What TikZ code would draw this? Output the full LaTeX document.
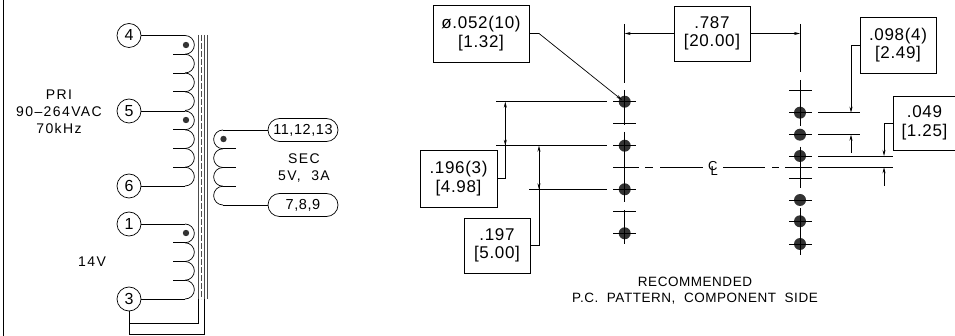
\documentclass[tikz,border=0pt]{standalone}
\usepackage{fontspec}
\setmainfont[LetterSpace=4]{Liberation Sans}
\usetikzlibrary{calc,arrows.meta,shapes.misc}
\newcommand{\widetext}{\addfontfeature{LetterSpace=10}}
\tikzset{
	pin/.style={draw,circle,minimum size=24pt,inner sep=0pt,font=\fontsize{16}{16}\selectfont},
	pill/.style={draw,rounded rectangle,minimum width=70pt,minimum height=23pt,inner sep=0pt,font=\fontsize{14.5}{14.5}\selectfont},
	dimbox/.style={draw,align=center,inner sep=0pt,font=\fontsize{17}{18.5}\selectfont},
	lbl/.style={align=center,inner sep=0pt,font=\fontsize{14}{17}\selectfont\widetext},
	dim/.style={-{Stealth[length=6pt,width=3pt]}},
	hole/.style={fill=black!80,circle,minimum size=12pt,inner sep=0pt},
	core/.style={line width=0.7pt,black!70}
}
\begin{document}
\begin{tikzpicture}[x=1pt,y=-1pt,line width=0.7pt]
	\useasboundingbox (0,0) rectangle (955,336);
	\draw (3,0) -- (3,336);

	% transformer pins
	\node[pin] (p4) at (129,35.5) {4};
	\node[pin] (p5) at (129,111) {5};
	\node[pin] (p6) at (129,186) {6};
	\node[pin] (p1) at (129,224) {1};
	\node[pin] (p3) at (129,299) {3};
	\node[pill] (s1) at (303,130) {11,12,13};
	\node[pill] (s2) at (303,205) {7,8,9};

	\coordinate (c1) at (185,35.5);
	\coordinate (c2) at (185,111);
	\coordinate (c3) at (185,186);
	\coordinate (c4) at (185,224);
	\coordinate (c5) at (185,299);
	\coordinate (c6) at (223,130);
	\coordinate (c7) at (223,205);

	\draw (p4) -- (c1);
	\draw (p5) -- (c2);
	\draw (p6) -- (c3);
	\draw (p1) -- (c4);
	\draw (p3) -- (c5);
	\draw (s1) -- (c6);
	\draw (s2) -- (c7);

	% windings
	\foreach \x in {c1,c2,c4}{
		\foreach \i in {0,...,3}{
			\draw ($(\x)+(0,\i*18.75)$) arc[start angle=-90,end angle=90,radius=9.375];
			\ifnum\i>0 \draw ($(\x)+(0,\i*18.75)$) -- ++(-12,0); \fi
		}
	}
	\foreach \i in {0,...,3}{
		\draw ($(c6)+(0,\i*18.75)$) arc[start angle=-90,end angle=-270,radius=9.375];
		\ifnum\i>0 \draw ($(c6)+(0,\i*18.75)$) -- ++(13,0); \fi
	}
	\foreach \x/\y in {186/45,186/120,186/233,223.5/139}
		\fill[black!80] (\x,\y) circle (3.2pt);

	% core
	\draw[core] (198,35) -- (198,299);
	\draw[core,dash pattern=on 6pt off 2pt] (201,35) -- (201,299);
	\draw[core] (204,35) -- (204,299);
	\draw[core] (207.5,35) -- (207.5,299);
	\draw (p3) -- (129,334) -- (204,334) -- (204,299);
	\draw (129,323) -- (198,323) -- (198,299);

	\node[lbl] (pri) at (59,112) {PRI\\90--264VAC\\70kHz};
	\node[lbl] (vs) at (92,262) {14V};
	\node[lbl] (sec) at (304,168.5) {SEC\\5V,\ \ 3A};

	% left column
	\foreach \y in {101.7,145.7,189.3,233.3}{
		\node[hole] at (624.7,\y) {};
		\draw (613,\y) -- (636,\y);
	}
	\draw (624.7,24) -- (624.7,83);
	\draw (624.7,90) -- (624.7,125);
	\draw (624.7,132) -- (624.7,202);
	\draw (624.7,210) -- (624.7,244);
	\draw (613,123.3) -- (636,123.3);
	\draw (613,211) -- (636,211);

	% right column
	\foreach \y in {112.7,134.7,156,200,221.3,244}{
		\node[hole] at (800,\y) {};
		\draw (789,\y) -- (811.7,\y);
	}
	\draw (800,24) -- (800,72);
	\draw (800,80) -- (800,125.7);
	\draw (800,146.7) -- (800,188.3);
	\draw (800,208.5) -- (800,255);
	\draw (789,90.7) -- (811.7,90.7);
	\draw (789,178.3) -- (811.7,178.3);

	% centre line
	\draw (613,167.3) -- (639,167.3);
	\draw (645,167.3) -- (653,167.3);
	\draw (660,167.3) -- (703,167.3);
	\draw (723,167.3) -- (765,167.3);
	\draw (772,167.3) -- (779,167.3);
	\draw (785,167.3) -- (812,167.3);
	\node[font=\fontsize{13}{13}\selectfont,inner sep=0pt] (cl) at (713,168) {\rlap{\raisebox{2.5pt}{C}}\hspace{2.5pt}\raisebox{-2.5pt}{L}};

	% dimension boxes
	\node[dimbox,minimum width=96pt,minimum height=57pt] (bhole) at (481,33.5) {ø.052(10)\\{[1.32]}};
	\node[dimbox,minimum width=76pt,minimum height=55pt] (bpitch) at (712,33.5) {.787\\{[20.00]}};
	\node[dimbox,minimum width=76pt,minimum height=56pt] (bsec) at (898,45) {.098(4)\\{[2.49]}};
	\node[dimbox,minimum width=63pt,minimum height=54pt] (bedge) at (924.5,123) {.049\\{[1.25]}};
	\node[dimbox,minimum width=77pt,minimum height=57pt] (bpri) at (458.5,178.5) {.196(3)\\{[4.98]}};
	\node[dimbox,minimum width=66pt,minimum height=55pt] (bpri2) at (497,245.5) {.197\\{[5.00]}};

	\coordinate (h1) at (622,100);
	\draw[dim] (bhole.east) -- (539,33.5) -- (h1);
	\draw[dim] (bpitch.west) -- (624.7,33.5);
	\draw[dim] (bpitch.east) -- (800,33.5);

	% left dimensions
	\draw (496,101.7) -- (607,101.7);
	\draw (496,145.7) -- (607,145.7);
	\draw (529,189.3) -- (607,189.3);
	\draw[dim] (bpri.east) -- (505.3,178.5) -- (505.3,101.7);
	\draw[dim] (505.3,125) -- (505.3,145.7);
	\draw[dim] (bpri2.east) -- (539,245.5) -- (539,145.7);
	\draw[dim] (539,170) -- (539,189.3);

	% right dimensions
	\draw (818,112.7) -- (860,112.7);
	\draw (818,134.7) -- (860,134.7);
	\draw (818,156) -- (893,156);
	\draw (818,167.3) -- (893,167.3);
	\draw[dim] (bsec.west) -- (851,45) -- (851,112.7);
	\draw[dim] (851,153) -- (851,134.7);
	\draw[dim] (bedge.west) -- (884,123) -- (884,156);
	\draw[dim] (884,186) -- (884,167.3);

	\node[lbl,font=\fontsize{13.5}{16}\selectfont] (cap) at (695,291) {RECOMMENDED\\P.C.\ \ PATTERN,\ \ COMPONENT\ \ SIDE};
\end{tikzpicture}
\end{document}
